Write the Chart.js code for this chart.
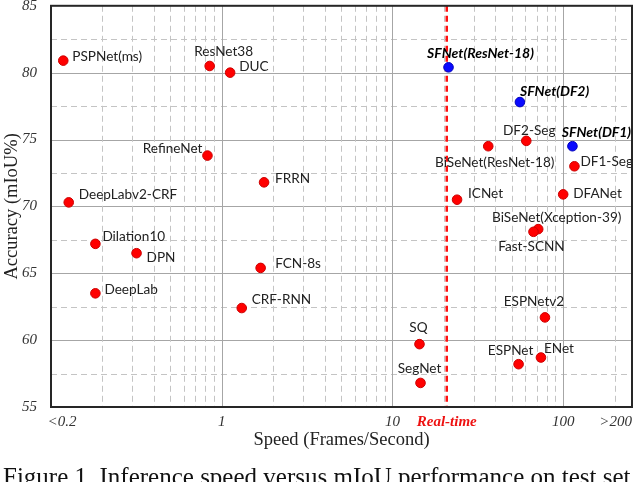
<!DOCTYPE html>
<html>
<head>
<meta charset="utf-8">
<script src="https://cdn.jsdelivr.net/npm/chart.js@4/dist/chart.umd.min.js"></script>
<style>
  html, body { margin: 0; padding: 0; background: #fff; overflow: hidden; }
  #wrap { position: relative; width: 640px; height: 482px; overflow: hidden; }
  #c { position: absolute; left: 0; top: 0; }
  #caption { position: absolute; left: 3px; top: 463px; white-space: nowrap; line-height: normal;
    font-family: "Liberation Serif", serif; font-size: 25px; color: #111; }
</style>
</head>
<body>
<div id="wrap">
  <canvas id="c" width="640" height="482"></canvas>
  <div id="caption">Figure 1. Inference speed versus mIoU performance on test set</div>
</div>
<script>
// ---- data ----
const baseNames = ['PSPNet(ms)','ResNet38','DUC','RefineNet','FRRN','DeepLabv2-CRF','Dilation10','DPN','DeepLab','FCN-8s','CRF-RNN',
  'DF2-Seg','BiSeNet(ResNet-18)','DF1-Seg','ICNet','DFANet','BiSeNet(Xception-39)','Fast-SCNN','ESPNetv2','SQ','ESPNet','ENet','SegNet'];
const baseFps = [0.118, 0.85, 1.12, 0.825, 1.77, 0.127, 0.182, 0.317, 0.182, 1.69, 1.31,
  60.8, 36.4, 116.4, 23.9, 100, 71.4, 67.0, 78.2, 14.4, 54.8, 74.1, 14.6];
const baseMiou = [80.9, 80.5, 80.0, 73.8, 71.8, 70.3, 67.2, 66.5, 63.5, 65.4, 62.4,
  74.9, 74.5, 73.0, 70.5, 70.9, 68.3, 68.1, 61.7, 59.7, 58.2, 58.7, 56.8];
const oursNames = ['SFNet(ResNet-18)','SFNet(DF2)','SFNet(DF1)'];
const oursFps = [21.3, 55.8, 113.3];
const oursMiou = [80.4, 77.8, 74.5];
const realTimeFps = 20.8;
const xTickValues = [0.116, 1, 10, 20.8, 100, 203];
const xTickLabels = ['<0.2', '1', '10', 'Real-time', '100', '>200'];
const yTickValues = [55, 60, 65, 70, 75, 80, 85];

// ---- label placement (style) ----
const labelPos = {
  'PSPNet(ms)': ['left', 9, -4], 'ResNet38': ['center', 14, -14.5], 'DUC': ['left', 9, -6],
  'RefineNet': ['right', -5, -7], 'FRRN': ['left', 11, -4], 'DeepLabv2-CRF': ['left', 10, -8],
  'Dilation10': ['left', 7, -7], 'DPN': ['left', 10, 4], 'DeepLab': ['left', 9, -4],
  'FCN-8s': ['left', 14.5, -4.5], 'CRF-RNN': ['left', 10, -8],
  'SFNet(ResNet-18)': ['center', 32, -13.5], 'SFNet(DF2)': ['left', 0, -11],
  'DF2-Seg': ['center', 3, -10], 'SFNet(DF1)': ['center', 24, -14],
  'BiSeNet(ResNet-18)': ['center', 6.5, 16], 'DF1-Seg': ['left', 6, -5],
  'ICNet': ['left', 11, -6], 'DFANet': ['left', 10, -1],
  'BiSeNet(Xception-39)': ['center', 18.5, -12], 'Fast-SCNN': ['center', -2, 15],
  'ESPNetv2': ['center', -11, -15.5], 'SQ': ['center', -1, -16.5],
  'ESPNet': ['center', -8, -14], 'ENet': ['left', 3, -9], 'SegNet': ['center', -1, -14.5]
};

const toPts = (xs, ys) => xs.map((x, i) => ({x: x, y: ys[i]}));

const gridPlugin = {
  id: 'gridPlugin',
  beforeDatasetsDraw(chart) {
    const {ctx, chartArea: a, scales: {x, y}} = chart;
    ctx.save();
    for (let i = 0; i < yTickValues.length - 1; i++) {
      const v0 = yTickValues[i], v1 = yTickValues[i + 1];
      const ym = y.getPixelForValue((v0 + v1) / 2);
      ctx.strokeStyle = '#c4c4c4'; ctx.lineWidth = 1; ctx.setLineDash([6, 4]);
      ctx.beginPath(); ctx.moveTo(a.left, Math.round(ym) + 0.5); ctx.lineTo(a.right, Math.round(ym) + 0.5); ctx.stroke();
      if (i > 0) {
        const yp = y.getPixelForValue(v0);
        ctx.strokeStyle = '#a6a6a6'; ctx.setLineDash([]);
        ctx.beginPath(); ctx.moveTo(a.left, Math.round(yp) + 0.5); ctx.lineTo(a.right, Math.round(yp) + 0.5); ctx.stroke();
      }
    }
    for (let d = 0.1; d < 1000; d *= 10) {
      for (let m = 1; m <= 9; m++) {
        const v = d * m;
        if (v <= x.min * 1.0001 || v >= x.max) continue;
        const xp = Math.round(x.getPixelForValue(v)) + 0.5;
        if (m === 1) { ctx.strokeStyle = '#a6a6a6'; ctx.setLineDash([]); }
        else { ctx.strokeStyle = '#c4c4c4'; ctx.setLineDash([6, 4]); }
        ctx.beginPath(); ctx.moveTo(xp, a.top); ctx.lineTo(xp, a.bottom); ctx.stroke();
      }
    }
    const rx = x.getPixelForValue(realTimeFps);
    ctx.strokeStyle = '#ff1010'; ctx.lineWidth = 2.5; ctx.setLineDash([6, 4]);
    ctx.beginPath(); ctx.moveTo(rx, a.top); ctx.lineTo(rx, a.bottom); ctx.stroke();
    ctx.setLineDash([]); ctx.strokeStyle = '#262626'; ctx.lineWidth = 2;
    ctx.strokeRect(a.left, a.top, a.right - a.left, a.bottom - a.top);
    ctx.restore();
  },
  afterDatasetsDraw(chart) {
    const {ctx} = chart;
    ctx.save();
    ctx.textBaseline = 'middle';
    chart.data.datasets.forEach((ds, di) => {
      const meta = chart.getDatasetMeta(di);
      meta.data.forEach((el, i) => {
        const name = ds.names[i];
        const p = labelPos[name] || ['left', 8, -6];
        ctx.textAlign = p[0];
        if (ds.ours) { ctx.font = 'italic bold 14px Lato'; ctx.fillStyle = '#000'; }
        else { ctx.font = '13.6px Lato'; ctx.fillStyle = '#222'; }
        ctx.fillText(name, el.x + p[1], el.y + p[2]);
      });
    });
    ctx.restore();
  }
};

new Chart(document.getElementById('c'), {
  type: 'scatter',
  data: {
    datasets: [
      { names: baseNames, data: toPts(baseFps, baseMiou), backgroundColor: '#ff0000', borderColor: '#cc0000',
        borderWidth: 1, pointRadius: 4.8, pointHoverRadius: 4.8 },
      { names: oursNames, ours: true, data: toPts(oursFps, oursMiou), backgroundColor: '#0a0aff', borderColor: '#0000bb',
        borderWidth: 1, pointRadius: 4.8, pointHoverRadius: 4.8 }
    ]
  },
  options: {
    responsive: false, animation: false, devicePixelRatio: 1,
    layout: { padding: { top: 5.5, right: 8, left: 0, bottom: 0 } },
    plugins: { legend: { display: false }, tooltip: { enabled: false } },
    scales: {
      x: {
        type: 'logarithmic', min: 0.1, max: 253, bounds: 'data',
        afterBuildTicks: (s) => { s.ticks = xTickValues.map(v => ({value: v})); },
        afterFit: (s) => { s.height = 75; s.paddingLeft = 0; s.paddingRight = 0; },
        grid: { display: false, drawTicks: false }, border: { display: false },
        ticks: {
          autoSkip: false, maxRotation: 0, padding: 6,
          callback: (v, i) => xTickLabels[i],
          color: (c) => (c.tick && c.tick.label === 'Real-time') ? '#ee1111' : '#333',
          font: (c) => (c.tick && c.tick.label === 'Real-time')
            ? {family: 'Liberation Serif', size: 15, style: 'italic', weight: 'bold'}
            : {family: 'Liberation Serif', size: 15, style: 'italic'}
        },
        title: { display: true, text: 'Speed (Frames/Second)', color: '#222',
          font: {family: 'Liberation Serif', size: 18.5}, padding: {top: 0, bottom: 31} }
      },
      y: {
        type: 'linear', min: 55, max: 85,
        afterBuildTicks: (s) => { s.ticks = yTickValues.map(v => ({value: v})); },
        afterFit: (s) => { s.width = 51; s.paddingTop = 0; s.paddingBottom = 0; },
        grid: { display: false, drawTicks: false }, border: { display: false },
        ticks: { padding: 14, color: '#333', font: {family: 'Liberation Serif', size: 15, style: 'italic'} },
        title: { display: true, text: 'Accuracy (mIoU%)', color: '#222',
          font: {family: 'Liberation Serif', size: 18.5}, padding: {top: 1, bottom: 0} }
      }
    }
  },
  plugins: [gridPlugin]
});
</script>
</body>
</html>
